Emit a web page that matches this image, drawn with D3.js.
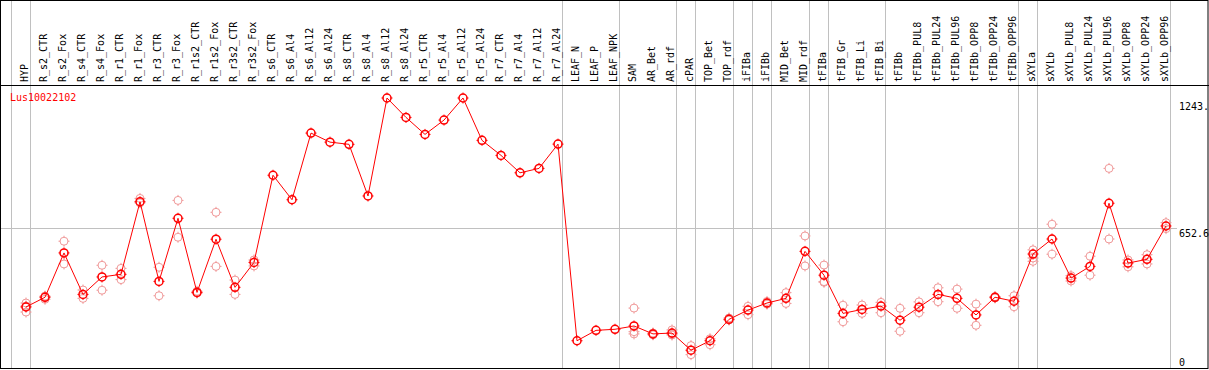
<!DOCTYPE html>
<html>
<head>
<meta charset="utf-8">
<script src="https://cdn.jsdelivr.net/npm/d3@7"></script>
<style>
  body { margin: 0; background: #fff; }
  text { font-family: "DejaVu Sans Mono", monospace; font-size: 10px; }
</style>
</head>
<body>
<svg id="chart"></svg>
<script>
// column names (sample groups)
const samples = ["HYP", "R_s2_CTR", "R_s2_Fox", "R_s4_CTR", "R_s4_Fox", "R_r1_CTR", "R_r1_Fox",
  "R_r3_CTR", "R_r3_Fox", "R_r1s2_CTR", "R_r1s2_Fox", "R_r3s2_CTR", "R_r3s2_Fox", "R_s6_CTR",
  "R_s6_Al4", "R_s6_Al12", "R_s6_Al24", "R_s8_CTR", "R_s8_Al4", "R_s8_Al12", "R_s8_Al24",
  "R_r5_CTR", "R_r5_Al4", "R_r5_Al12", "R_r5_Al24", "R_r7_CTR", "R_r7_Al4", "R_r7_Al12", "R_r7_Al24",
  "LEAF_N", "LEAF_P", "LEAF_NPK", "SAM", "AR_Bet", "AR_rdf", "cPAR", "TOP_Bet", "TOP_rdf",
  "iFIBa", "iFIBb", "MID_Bet", "MID_rdf", "tFIBa", "tFIB_Gr", "tFIB_Li", "tFIB_Bi", "tFIBb",
  "tFIBb_PUL8", "tFIBb_PUL24", "tFIBb_PUL96", "tFIBb_OPP8", "tFIBb_OPP24", "tFIBb_OPP96",
  "sXYLa", "sXYLb", "sXYLb_PUL8", "sXYLb_PUL24", "sXYLb_PUL96", "sXYLb_OPP8", "sXYLb_OPP24", "sXYLb_OPP96"];

// mean expression per sample
const means = [296, 340, 541, 353, 432, 444, 773, 412, 698, 362, 603, 385, 498, 893,
  782, 1084, 1043, 1033, 799, 1243, 1155, 1078, 1143, 1243, 1051, 983, 904, 924, 1034,
  143, 190, 195, 210, 174, 178, 100, 143, 240, 282, 314, 335, 548, 440, 267, 285, 300, 236,
  295, 353, 335, 260, 340, 322, 536, 604, 427, 480, 766, 495, 512, 663];

// replicate values per sample
const reps = [[314, 300, 273], [343, 345, 331], [594, 491], [373, 335], [485, 372], [471, 420],
  [788, 768], [476, 347], [779, 612], [367, 359], [725, 480], [418, 353], [509, 482], [893],
  [782], [1084], [1043], [1033], [799], [1243], [1155], [1078], [1143], [1243], [1051],
  [983], [904], [924], [1034], [143], [190], [195], [291, 184, 174], [178, 170], [192, 174, 169],
  [121, 80], [152, 125], [246, 237], [299, 261], [321, 309], [361, 312], [618, 482],
  [486, 411, 408], [304, 229], [305, 267], [317, 270], [290, 186], [319, 270], [383, 320],
  [377, 290], [309, 213], [343, 337], [347, 297], [555, 503, 518], [671, 535], [438, 414],
  [526, 440], [924, 604], [509, 478], [533, 491], [678, 651]];

// group boundaries drawn after these samples
const groupEnds = ["HYP", "R_r7_Al24", "LEAF_NPK", "AR_rdf", "cPAR", "TOP_rdf", "iFIBa",
  "iFIBb", "MID_rdf", "tFIBa", "tFIB_Bi", "tFIBb_OPP96", "sXYLa", "sXYLb_OPP96"];

const gene = "Lus10022102";
const yMax = 1243, yMid = 652.6;
const yLabels = ["1243.", "652.6", "0"];

const W = 1209, H = 370;
const headerY = 85, bottomY = 368;

const svg = d3.select("#chart").attr("width", W).attr("height", H);

const x = d3.scalePoint().domain(samples).range([26, 1166]);
const y = d3.scaleLinear().domain([0, yMax]).range([372.3, 98]);

// vertical group separators
const sepX = [x(samples[0]) - 15].concat(groupEnds.map(s => x(s) + 4));
svg.append("g").selectAll("line")
  .data(sepX)
  .join("line")
  .attr("x1", d => d + 0.5).attr("x2", d => d + 0.5)
  .attr("y1", 0).attr("y2", bottomY)
  .attr("stroke", "#c0c0c0");

// horizontal grid line
svg.append("line")
  .attr("x1", 1).attr("x2", 1177)
  .attr("y1", Math.round(y(yMid)) + 0.5).attr("y2", Math.round(y(yMid)) + 0.5)
  .attr("stroke", "#c0c0c0");

// frame
svg.append("rect")
  .attr("x", 0.5).attr("y", 0.5)
  .attr("width", W - 1.5).attr("height", bottomY)
  .attr("fill", "none").attr("stroke", "black");
svg.append("line")
  .attr("x1", 0).attr("x2", W)
  .attr("y1", headerY + 0.5).attr("y2", headerY + 0.5)
  .attr("stroke", "black");

// column labels
svg.append("g").selectAll("text")
  .data(samples)
  .join("text")
  .attr("transform", d => `translate(${x(d) + 2},82) rotate(-90)`)
  .text(d => d);

// gene name
svg.append("text")
  .attr("x", 10).attr("y", 101)
  .attr("fill", "red")
  .text(gene);

// right side value labels
svg.append("text").attr("x", 1179).attr("y", 110).text(yLabels[0]);
svg.append("text").attr("x", 1179).attr("y", 237).text(yLabels[1]);
svg.append("text").attr("x", 1179).attr("y", 366).text(yLabels[2]);

// marker: circle with little ticks
function marker(g, cx, cy, color, sw) {
  g.append("circle")
    .attr("cx", cx).attr("cy", cy).attr("r", 4)
    .attr("fill", "none").attr("stroke", color).attr("stroke-width", sw);
  g.append("path")
    .attr("d", `M${cx},${cy - 5.5}v2M${cx},${cy + 3.5}v2M${cx - 5.5},${cy}h2M${cx + 3.5},${cy}h2`)
    .attr("stroke", color).attr("stroke-width", 1);
}

// replicates
const repG = svg.append("g");
samples.forEach((s, i) => {
  if (reps[i].length < 2) return;
  reps[i].forEach(v => marker(repG, x(s), y(v), "#f09a9a", 1));
});

// mean line
const line = d3.line()
  .x((d, i) => x(samples[i]))
  .y(d => y(d));
svg.append("path")
  .datum(means)
  .attr("d", line)
  .attr("fill", "none")
  .attr("stroke", "red")
  .attr("stroke-width", 1);

// mean markers
const meanG = svg.append("g");
samples.forEach((s, i) => marker(meanG, x(s), y(means[i]), "red", 1.5));
</script>
</body>
</html>
